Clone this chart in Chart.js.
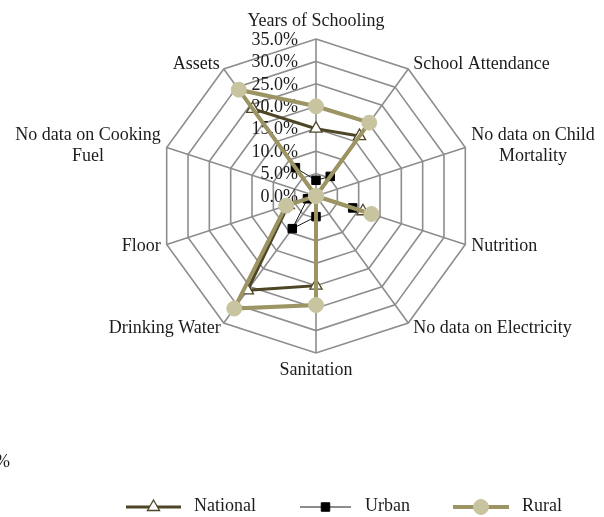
<!DOCTYPE html>
<html><head><meta charset="utf-8">
<script src="https://cdn.jsdelivr.net/npm/chart.js@4.4.1/dist/chart.umd.min.js"></script>
<style>html,body{margin:0;padding:0;background:#fff;}canvas{display:block;}</style>
</head><body>
<canvas id="c" width="604" height="517"></canvas>
<script>
// ---- data ----
const categories = [['Years of Schooling'], ['School Attendance'], ['No data on Child', 'Mortality'], ['Nutrition'], ['No data on Electricity'], ['Sanitation'], ['Drinking Water'], ['Floor'], ['No data on Cooking', 'Fuel'], ['Assets']];
const seriesNames = ['National', 'Urban', 'Rural'];
const nationalValues = [15, 16.5, 0, 11, 0, 20, 26, 6.5, 0, 24];
const urbanValues = [3.5, 5.4, 0, 8.6, 0, 4.6, 9, 2, 0, 7.8];
const ruralValues = [20, 20.2, 0, 13, 0, 24.3, 31, 7, 0, 29.3];
const tickValues = [0, 5, 10, 15, 20, 25, 30, 35];
const tickLabels = ['0.0%', '5.0%', '10.0%', '15.0%', '20.0%', '25.0%', '30.0%', '35.0%'];

// ---- styles ----
const FONT = '18px "Liberation Serif", "Times New Roman", serif';
const TEXT = '#1c1c1c';
const GRID = '#8d8d8d';
const placement = [
  {align: 'center', dx: 0, dy: -18},
  {align: 'left', dx: 5, dy: -5},
  {align: 'left', dx: 6, dy: -2},
  {align: 'left', dx: 6, dy: 2},
  {align: 'left', dx: 5, dy: 5},
  {align: 'center', dx: 0, dy: 17},
  {align: 'right', dx: -3, dy: 5},
  {align: 'right', dx: -6, dy: 2},
  {align: 'right', dx: -6, dy: -2},
  {align: 'right', dx: -4, dy: -5}
];
const legendPos = [
  {x1: 126, x2: 181, tx: 194},
  {x1: 300, x2: 351, tx: 365},
  {x1: 453, x2: 509, tx: 522}
];
const LEGEND_Y = 507;

const datasets = [
  {label: seriesNames[0], data: nationalValues, borderColor: '#4d4526', borderWidth: 3,
   pointStyle: 'triangle', pointRadius: 7, pointBackgroundColor: '#ffffff', pointBorderColor: '#4d4526', pointBorderWidth: 1.3, order: 3},
  {label: seriesNames[1], data: urbanValues, borderColor: '#1a1a1a', borderWidth: 1,
   pointStyle: 'rect', pointRadius: 6, pointBackgroundColor: '#000000', pointBorderColor: '#000000', pointBorderWidth: 1, order: 2},
  {label: seriesNames[2], data: ruralValues, borderColor: '#9c9462', borderWidth: 4,
   pointStyle: 'circle', pointRadius: 7.5, pointBackgroundColor: '#c9c4a0', pointBorderColor: '#c9c4a0', pointBorderWidth: 1, order: 1}
];
datasets.forEach(d => { d.fill = false; d.backgroundColor = 'transparent'; d.tension = 0; });

const textPlugin = {
  id: 'texts',
  beforeDatasetsDraw(chart) {
    const ctx = chart.ctx;
    const scale = chart.scales.r;
    ctx.save();
    ctx.font = FONT;
    ctx.fillStyle = TEXT;
    ctx.textBaseline = 'middle';
    // tick labels
    ctx.textAlign = 'right';
    tickValues.forEach((v, i) => {
      const d = scale.getDistanceFromCenterForValue(v);
      ctx.fillText(tickLabels[i], scale.xCenter - 18, scale.yCenter - d + 1);
    });
    // point labels
    categories.forEach((lines, i) => {
      const p = scale.getPointPosition(i, scale.drawingArea);
      const pl = placement[i];
      const w = Math.max(...lines.map(l => ctx.measureText(l).width));
      const lh = 21;
      let cx = p.x + pl.dx;
      if (pl.align === 'left') cx += w / 2;
      if (pl.align === 'right') cx -= w / 2;
      const cy0 = p.y + pl.dy - (lines.length - 1) * lh / 2;
      ctx.textAlign = 'center';
      lines.forEach((l, k) => ctx.fillText(l, cx, cy0 + k * lh));
    });
    // clipped stray label at left edge
    ctx.textAlign = 'right';
    ctx.fillText('0.0%', 10, 462);
    ctx.restore();
  },
  afterDraw(chart) {
    const ctx = chart.ctx;
    ctx.save();
    chart.data.datasets.forEach((ds, i) => {
      const lp = legendPos[i];
      ctx.beginPath();
      ctx.strokeStyle = ds.borderColor;
      ctx.lineWidth = ds.borderWidth;
      ctx.moveTo(lp.x1, LEGEND_Y);
      ctx.lineTo(lp.x2, LEGEND_Y);
      ctx.stroke();
      ctx.fillStyle = ds.pointBackgroundColor;
      ctx.strokeStyle = ds.pointBorderColor;
      ctx.lineWidth = ds.pointBorderWidth;
      Chart.helpers.drawPoint(ctx, {pointStyle: ds.pointStyle, radius: ds.pointRadius, rotation: 0, borderWidth: ds.pointBorderWidth}, (lp.x1 + lp.x2) / 2, LEGEND_Y);
      ctx.font = FONT;
      ctx.fillStyle = TEXT;
      ctx.textAlign = 'left';
      ctx.textBaseline = 'middle';
      ctx.fillText(ds.label, lp.tx, LEGEND_Y - 1);
    });
    ctx.restore();
  }
};

new Chart(document.getElementById('c'), {
  type: 'radar',
  data: {labels: categories, datasets: datasets},
  options: {
    responsive: false,
    animation: false,
    layout: {padding: {left: 159, right: 131, top: 39, bottom: 164}},
    plugins: {legend: {display: false}, tooltip: {enabled: false}},
    elements: {line: {borderJoinStyle: 'miter'}},
    scales: {
      r: {
        min: 0, max: 35,
        ticks: {display: false, stepSize: 5},
        pointLabels: {display: false},
        grid: {color: GRID, lineWidth: 1.6, circular: false},
        angleLines: {color: GRID, lineWidth: 1.6}
      }
    }
  },
  plugins: [textPlugin]
});
</script>
</body></html>
